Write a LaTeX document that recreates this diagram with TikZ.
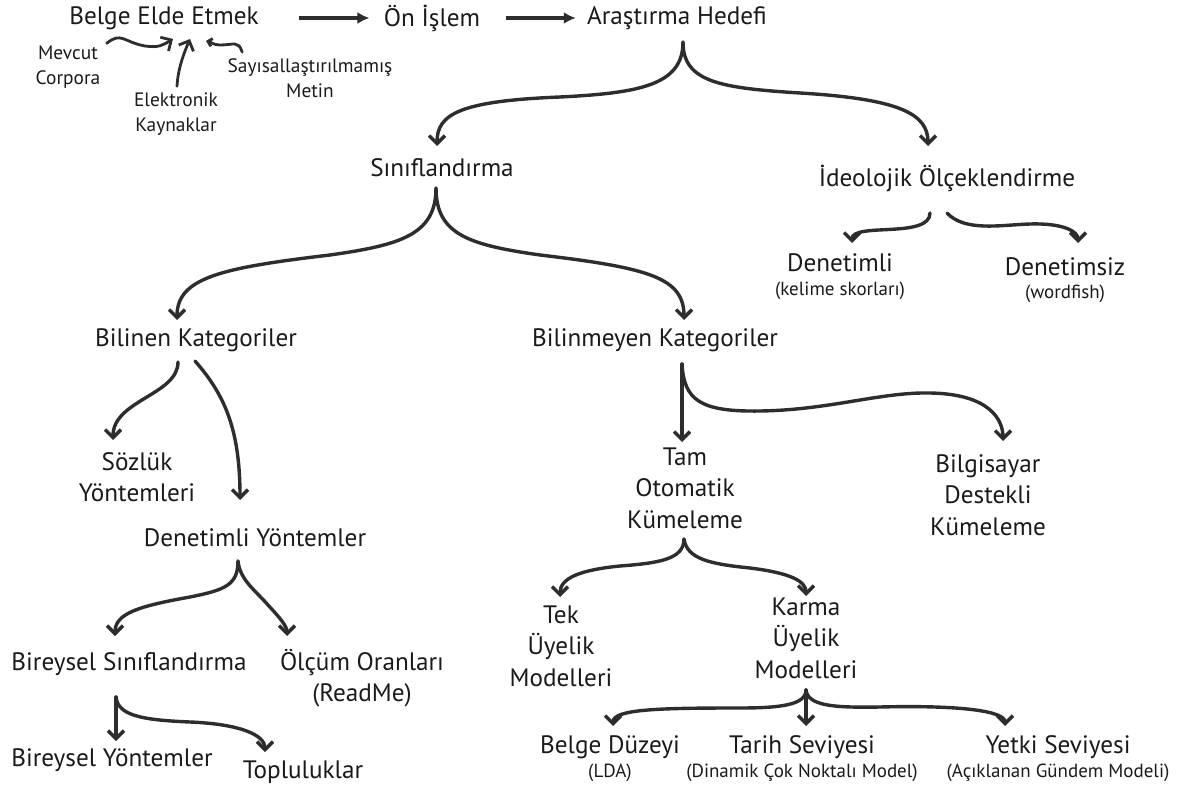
\documentclass[tikz,border=0pt]{standalone}
\usepackage{fontspec}
\setmainfont{PT Sans}
\usetikzlibrary{arrows.meta,calc}
\definecolor{ink}{HTML}{2D2D2F}
\definecolor{txt}{HTML}{1A1A1A}

\begin{document}
\begin{tikzpicture}[
  x=0.5pt, y=-0.5pt,
  every node/.style={inner sep=0pt, align=center, text=txt},
  lbl/.style={font=\fontsize{12.6}{15.75}\selectfont},
  src/.style={font=\fontsize{9.7}{12.5}\selectfont},
  paren/.style={font=\fontsize{9.5}{10}\selectfont},
  brace/.style={draw=ink, line width=1.7pt, line cap=round,
    -{Straight Barb[length=4pt,width=8pt]}},
  flow/.style={draw=ink, line width=1.7pt, -{Latex[length=6pt,width=6pt]}}
]
\useasboundingbox (0,0) rectangle (1179,791);

\node[lbl] (elde) at (164,18) {Belge Elde Etmek};
\node[lbl] (islem) at (432,18) {Ön İşlem};
\node[lbl] (hedef) at (677,18) {Araştırma Hedefi};
\node[src] (mevcut) at (68,67) {Mevcut\\Corpora};
\node[src] (elek) at (176,114) {Elektronik\\Kaynaklar};
\node[src] (sayi) at (310,78) {Sayısallaştırılmamış\\Metin};

\node[lbl] (sinif) at (442,168) {Sınıflandırma};
\node[lbl] (ideo) at (947,178) {İdeolojik Ölçeklendirme};
\node[lbl] (denet) at (840,263) {Denetimli};
\node[paren] (denetP) at (840,291) {(kelime skorları)};
\node[lbl] (denetsiz) at (1065,267) {Denetimsiz};
\node[paren] (denetsizP) at (1065,294) {(wordfish)};

\node[lbl] (bilinen) at (196,340) {Bilinen Kategoriler};
\node[lbl] (bilinmeyen) at (655,340) {Bilinmeyen Kategoriler};
\node[lbl] (sozluk) at (137,477) {Sözlük\\Yöntemleri};
\node[lbl] (dyontem) at (255,538) {Denetimli Yöntemler};
\node[lbl] (bireysel) at (129,664) {Bireysel Sınıflandırma};
\node[lbl] (olcum) at (362,678) {Ölçüm Oranları\\(ReadMe)};
\node[lbl] (byontem) at (112,760) {Bireysel Yöntemler};
\node[lbl] (toplu) at (303,772) {Topluluklar};

\node[lbl] (tam) at (685,488) {Tam\\Otomatik\\Kümeleme};
\node[lbl] (bilgi) at (988,495) {Bilgisayar\\Destekli\\Kümeleme};
\node[lbl] (tek) at (561,646) {Tek\\Üyelik\\Modelleri};
\node[lbl] (karma) at (806,638) {Karma\\Üyelik\\Modelleri};
\node[lbl] (belgeD) at (610,747) {Belge Düzeyi};
\node[paren] (belgeDP) at (610,773) {(LDA)};
\node[lbl] (tarih) at (802,747) {Tarih Seviyesi};
\node[paren] (tarihP) at (802,773) {(Dinamik Çok Noktalı Model)};
\node[lbl] (yetki) at (1058,747) {Yetki Seviyesi};
\node[paren] (yetkiP) at (1058,773) {(Açıklanan Gündem Modeli)};

\coordinate (hedefF) at (683,42);
\coordinate (ideoL) at (930,213);
\coordinate (ideoR) at (947,213);
\coordinate (sinifF) at (436,188);
\coordinate (bilinenL) at (178,362);
\coordinate (bilinenR) at (195,361);
\coordinate (bilinmeyenF) at (682,364);
\coordinate (dyontemF) at (238,561);
\coordinate (bireyselF) at (116,697);
\coordinate (tamF) at (684,539);
\coordinate (karmaF) at (806,690);

\draw[flow] ($(elde.east)+(40,0)$) -- ($(islem.west)+(-14,0)$);
\draw[flow] ($(islem.east)+(25,0)$) -- ($(hedef.west)+(-11,0)$);

\draw[brace, line width=1.4pt] ($(mevcut.north east)+(6,-2)$)
  .. controls +(15,-12) and +(-22,-4) .. (145,46)
  .. controls +(14,2) and +(-10,6) .. ($(elde.south)+(9,9)$);
\draw[brace, line width=1.4pt] ($(elek.north)+(1,-6)$)
  .. controls +(1,-18) and +(-6,14) .. ($(elde.south)+(26,9)$);
\draw[brace, line width=1.4pt, -{Straight Barb[length=2pt,width=4pt]}]
  ($(sayi.north west)+(15,-6)$)
  .. controls +(-4,-12) and +(14,0) .. (220,45)
  .. controls +(-6,0) and +(4,1) .. ($(elde.south)+(42,11)$);

\draw[brace] (hedefF) .. controls +(0,43) and +(80,-4) .. (560,97)
  .. controls +(-100,4) and +(0,-32) .. (437,146);
\draw[brace] (hedefF) .. controls +(0,40) and +(-80,-5) .. (800,93)
  .. controls +(100,6) and +(0,-32) .. (928,146);

\draw[brace] (ideoL) .. controls +(0,26) and +(0,-21) .. (852,243);
\draw[brace] (ideoR) .. controls +(18,19) and +(-30,1) .. (1030,224)
  .. controls +(35,-1) and +(0,-11) .. (1078,243);

\draw[brace] (sinifF) .. controls +(0,47) and +(70,-10) .. (330,255)
  .. controls +(-110,13) and +(0,-42) .. (177,320);
\draw[brace] (sinifF) .. controls +(0,47) and +(-70,-10) .. (540,255)
  .. controls +(110,13) and +(0,-42) .. (684,320);

\draw[brace] (bilinenL) .. controls +(0,33) and +(0,-40) .. (113,440);
\draw[brace] (bilinenR) .. controls +(30,34) and +(0,-70) .. (240,500);

\draw[brace] (bilinmeyenF) -- (682,442);
\draw[brace] (bilinmeyenF) .. controls +(2,36) and +(-60,1) .. (760,411)
  .. controls +(70,-1) and +(-50,-1) .. (930,393)
  .. controls +(60,1) and +(0,-21) .. (1003,441);

\draw[brace] (dyontemF) .. controls +(0,24) and +(35,-7) .. (190,597)
  .. controls +(-50,9) and +(0,-23) .. (115,636);
\draw[brace] (dyontemF) .. controls +(2,19) and +(-13,-15) .. (268,605)
  .. controls +(12,13) and +(0,-10) .. (287,636);

\draw[brace] (bireyselF) -- (116,741);
\draw[brace] (bireyselF) .. controls +(2,18) and +(-50,-2) .. (190,722)
  .. controls +(50,2) and +(0,-17) .. (265,752);

\draw[brace] (tamF) .. controls +(0,20) and +(40,-3) .. (620,566)
  .. controls +(-40,4) and +(0,-19) .. (560,597);
\draw[brace] (tamF) .. controls +(3,20) and +(-40,-4) .. (750,568)
  .. controls +(40,5) and +(0,-15) .. (806,596);

\draw[brace] (karmaF) -- (806,726);
\draw[brace] (karmaF) .. controls +(0,15) and +(40,0) .. (740,708)
  .. controls +(-80,0) and +(0,-17) .. (613,726);
\draw[brace] (karmaF) .. controls +(2,15) and +(-50,1) .. (880,707)
  .. controls +(80,-2) and +(0,-15) .. (1005,726);
\end{tikzpicture}
\end{document}
